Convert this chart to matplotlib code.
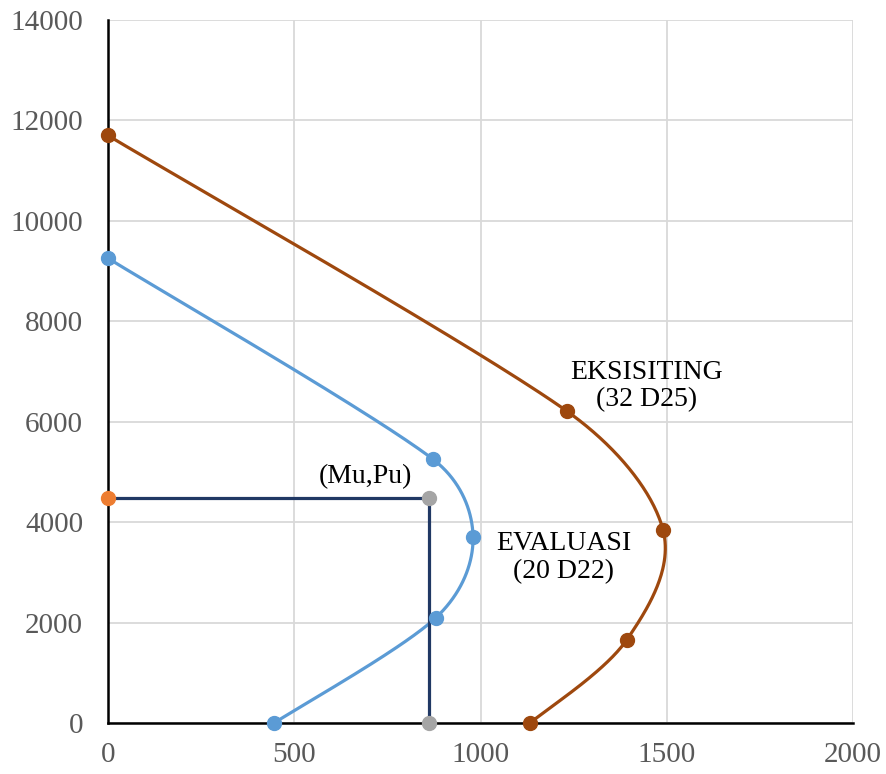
import matplotlib
matplotlib.use('Agg')
import matplotlib.pyplot as plt
import numpy as np

# Interaction diagram points (Mu, Pu)
eksisting_mu = [0, 1232, 1490, 1392, 1133]
eksisting_pu = [11700, 6210, 3845, 1650, 0]
evaluasi_mu = [0, 872, 980, 880, 446]
evaluasi_pu = [9255, 5255, 3705, 2095, 0]

load_mu = 862
load_pu = 4480

x_ticks = [0, 500, 1000, 1500, 2000]
y_ticks = [0, 2000, 4000, 6000, 8000, 10000, 12000, 14000]

plt.rcParams['font.family'] = ['Liberation Serif', 'DejaVu Serif']


def smooth_display(ax, xs, ys, steps=60):
    # Excel-like smoothed line: bezier segments in screen space,
    # handle length capped so short segments don't kink
    pts = ax.transData.transform(np.column_stack([xs, ys]))
    p = np.vstack([pts[0], pts, pts[-1]])
    out = []
    for i in range(1, len(p) - 2):
        p0, p1, p2, p3 = p[i - 1], p[i], p[i + 1], p[i + 2]
        seg_len = np.linalg.norm(p2 - p1)
        h1 = (p2 - p0) / 6
        h2 = (p3 - p1) / 6
        cap = seg_len * 0.4
        if np.linalg.norm(h1) > cap:
            h1 = h1 / np.linalg.norm(h1) * cap
        if np.linalg.norm(h2) > cap:
            h2 = h2 / np.linalg.norm(h2) * cap
        c1 = p1 + h1
        c2 = p2 - h2
        t = np.linspace(0, 1, steps)[:, None]
        seg = ((1 - t) ** 3) * p1 + 3 * ((1 - t) ** 2) * t * c1 + 3 * (1 - t) * t ** 2 * c2 + t ** 3 * p2
        out.append(seg)
    curve = np.vstack(out)
    data = ax.transData.inverted().transform(curve)
    return data[:, 0], data[:, 1]


fig = plt.figure(figsize=(8.86, 7.74), dpi=100)
ax = fig.add_axes([108 / 886, 1 - 723 / 774, 745 / 886, 703 / 774])
ax.set_xlim(0, 2000)
ax.set_ylim(0, 14000)
ax.set_xticks(x_ticks)
ax.set_yticks(y_ticks)
ax.grid(True, color='#d9d9d9', linewidth=1.3)
ax.set_axisbelow(True)
for side in ['top', 'right']:
    ax.spines[side].set_visible(False)
for side in ['left', 'bottom']:
    ax.spines[side].set_color('black')
    ax.spines[side].set_linewidth(1.8)
    ax.spines[side].set_zorder(2)
ax.tick_params(length=0, labelsize=21, colors='#595959')
ax.tick_params(axis='y', pad=18)
ax.tick_params(axis='x', pad=14)

blue = '#5b9bd5'
brown = '#9e480e'
navy = '#203864'

sx, sy = smooth_display(ax, eksisting_mu, eksisting_pu)
ax.plot(sx, sy, color=brown, linewidth=2.3, zorder=3, clip_on=False)
ax.plot(eksisting_mu, eksisting_pu, 'o', color=brown, markersize=10, zorder=4, clip_on=False)

sx, sy = smooth_display(ax, evaluasi_mu, evaluasi_pu)
ax.plot(sx, sy, color=blue, linewidth=2.3, zorder=3, clip_on=False)
ax.plot(evaluasi_mu, evaluasi_pu, 'o', color=blue, markersize=10, zorder=4, clip_on=False)

ax.plot([0, load_mu, load_mu], [load_pu, load_pu, 0], color=navy, linewidth=2.3, zorder=3)
ax.plot([0], [load_pu], 'o', color='#ed7d31', markersize=10, zorder=5, clip_on=False)
ax.plot([load_mu, load_mu], [load_pu, 0], 'o', color='#a5a5a5', markersize=10, zorder=5, clip_on=False)

ax.text(1447, 6710, 'EKSISITING\n(32 D25)', fontsize=20, ha='center', va='center',
        linespacing=1.15, color='black')
ax.text(1224, 3300, 'EVALUASI\n(20 D22)', fontsize=20, ha='center', va='center',
        linespacing=1.15, color='black')
ax.text(690, 4900, '(Mu,Pu)', fontsize=20, ha='center', va='center', color='black')

fig.savefig('out.png', dpi=100)
